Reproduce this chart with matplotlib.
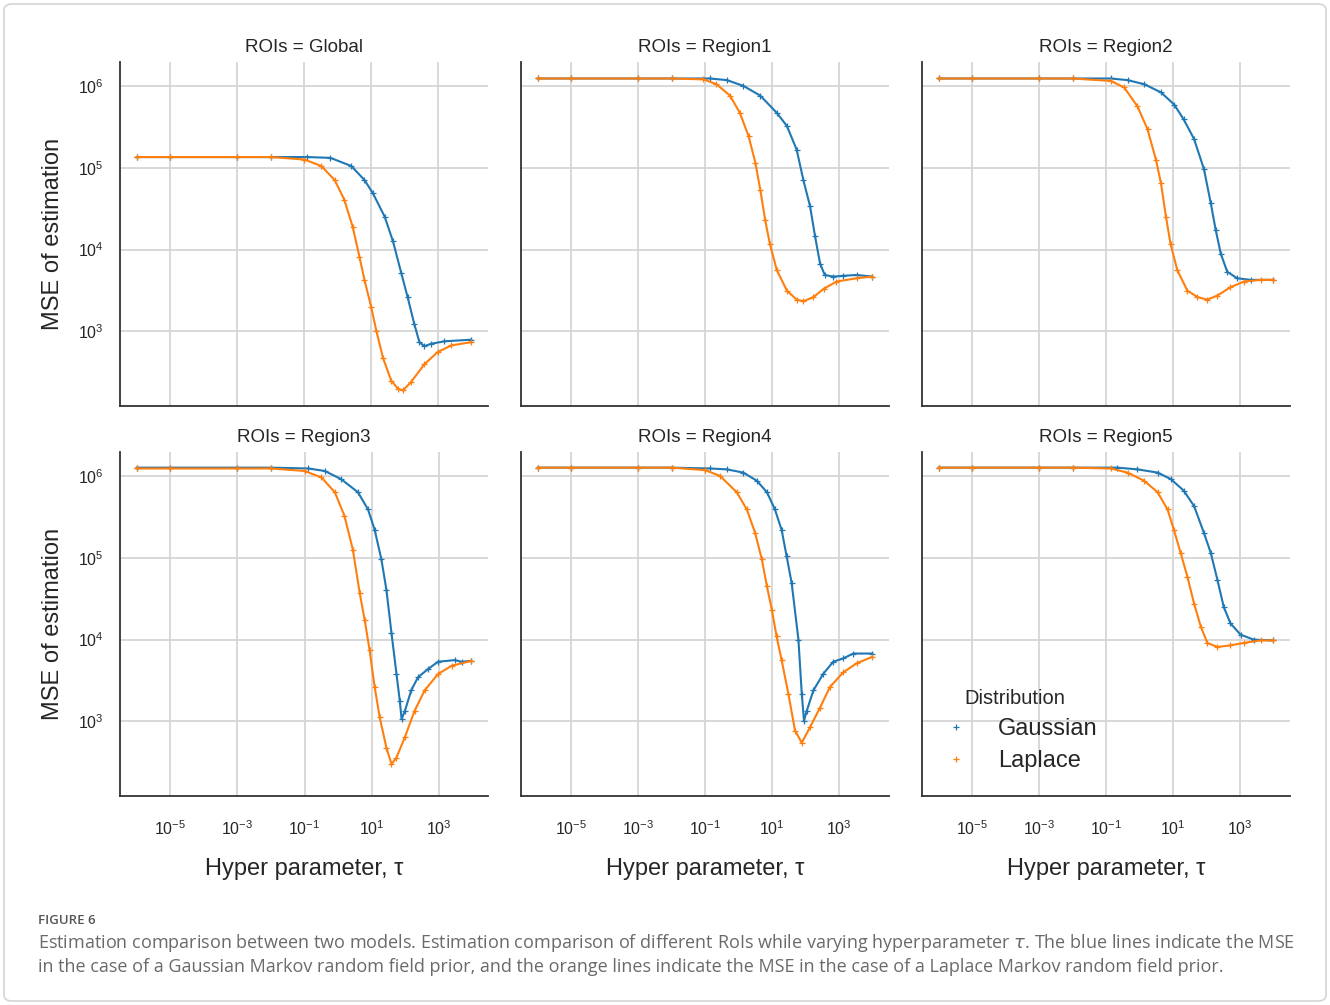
import matplotlib
matplotlib.use("Agg")
import matplotlib.pyplot as plt
import matplotlib.ticker as mticker
from matplotlib.lines import Line2D
from matplotlib.patches import FancyBboxPatch
import pandas as pd

plt.rcParams["font.family"] = ["Liberation Sans", "DejaVu Sans"]
plt.rcParams["mathtext.fontset"] = "custom"
plt.rcParams["mathtext.rm"] = "Liberation Sans"

ROIS = ["Global", "Region1", "Region2", "Region3", "Region4", "Region5"]
DISTRIBUTIONS = ["Gaussian", "Laplace"]
COLORS = {"Gaussian": "#1f77b4", "Laplace": "#ff7f0e"}
X_TICKS = [1e-5, 1e-3, 1e-1, 1e1, 1e3]
Y_TICKS = [1e3, 1e4, 1e5, 1e6]

# ---- MSE of estimation versus hyper parameter tau, per ROI and prior ----
GLOBAL_GAUSSIAN_TAU = [1e-6, 1e-5, 1e-3, 1e-2, 0.12, 0.6, 2.5, 6.2, 11, 25, 44, 78, 120, 190, 270, 380, 600, 1500, 9500]
GLOBAL_GAUSSIAN_MSE = [1.35e5, 1.35e5, 1.35e5, 1.35e5, 1.35e5, 1.32e5, 1.05e5, 7.08e4, 4.90e4, 2.51e4, 1.26e4,
                       5.13e3, 2.63e3, 1.23e3, 741, 661, 708, 759, 794]
GLOBAL_LAPLACE_TAU = [1e-6, 1e-5, 1e-3, 1e-2, 0.1, 0.32, 0.8, 1.55, 2.75, 4.4, 6.2, 9.8, 14, 22, 39, 62, 87, 150,
                      380, 950, 2400, 9500]
GLOBAL_LAPLACE_MSE = [1.35e5, 1.35e5, 1.35e5, 1.35e5, 1.26e5, 1.05e5, 7.08e4, 4.07e4, 1.91e4, 8.13e3, 4.27e3,
                      2.0e3, 1.02e3, 479, 251, 200, 191, 240, 398, 562, 676, 741]

REGION1_GAUSSIAN_TAU = [1e-6, 1e-5, 1e-3, 1e-2, 0.14, 0.45, 1.4, 4.5, 14, 28, 55, 87, 138, 195, 275, 380, 680,
                        1350, 3400, 1e4]
REGION1_GAUSSIAN_MSE = [1.23e6, 1.23e6, 1.23e6, 1.23e6, 1.23e6, 1.175e6, 1.0e6, 7.59e5, 4.68e5, 3.24e5, 1.66e5,
                        7.08e4, 3.39e4, 1.45e4, 6.76e3, 4.90e3, 4.68e3, 4.79e3, 4.90e3, 4.68e3]
REGION1_LAPLACE_TAU = [1e-6, 1e-5, 1e-3, 1e-2, 0.09, 0.22, 0.56, 1.1, 2.0, 3.2, 4.5, 6.3, 8.7, 14, 28, 55, 87, 174,
                       350, 850, 3400, 1e4]
REGION1_LAPLACE_MSE = [1.23e6, 1.23e6, 1.23e6, 1.23e6, 1.20e6, 1.047e6, 7.59e5, 4.68e5, 2.45e5, 1.15e5, 5.37e4,
                       2.29e4, 1.175e4, 5.62e3, 3.16e3, 2.45e3, 2.34e3, 2.63e3, 3.31e3, 4.07e3, 4.47e3, 4.68e3]

REGION2_GAUSSIAN_TAU = [1e-6, 1e-5, 1e-3, 1e-2, 0.14, 0.44, 1.4, 4.4, 11, 21, 43, 85, 135, 190, 270, 420, 830,
                        2100, 1e4]
REGION2_GAUSSIAN_MSE = [1.23e6, 1.23e6, 1.23e6, 1.23e6, 1.23e6, 1.175e6, 1.047e6, 8.32e5, 5.89e5, 3.89e5, 2.24e5,
                        9.55e4, 3.72e4, 1.74e4, 8.91e3, 5.37e3, 4.47e3, 4.27e3, 4.27e3]
REGION2_LAPLACE_TAU = [1e-6, 1e-5, 1e-3, 1e-2, 0.14, 0.35, 0.87, 1.74, 3.1, 4.4, 6.2, 8.5, 13.5, 27, 54, 107, 214,
                       525, 1320, 4200, 1e4]
REGION2_LAPLACE_MSE = [1.23e6, 1.23e6, 1.23e6, 1.23e6, 1.148e6, 9.55e5, 5.62e5, 2.95e5, 1.26e5, 6.46e4, 2.51e4,
                       1.175e4, 5.62e3, 3.16e3, 2.63e3, 2.45e3, 2.75e3, 3.47e3, 4.07e3, 4.27e3, 4.27e3]

REGION3_GAUSSIAN_TAU = [1e-6, 1e-5, 1e-3, 1e-2, 0.13, 0.4, 1.23, 3.9, 7.8, 12.3, 19.5, 27.5, 39, 55, 69, 78, 98,
                        151, 240, 480, 950, 3000, 4800, 9300]
REGION3_GAUSSIAN_MSE = [1.26e6, 1.26e6, 1.26e6, 1.26e6, 1.23e6, 1.148e6, 9.12e5, 6.31e5, 3.89e5, 2.19e5, 9.55e4,
                        4.07e4, 1.20e4, 3.80e3, 1.78e3, 1.07e3, 1.35e3, 2.40e3, 3.47e3, 4.37e3, 5.37e3, 5.62e3,
                        5.37e3, 5.50e3]
REGION3_LAPLACE_TAU = [1e-6, 1e-5, 1e-3, 1e-2, 0.1, 0.32, 0.8, 1.55, 2.75, 4.4, 6.2, 8.7, 12.3, 17.4, 27.5, 39, 55,
                       98, 190, 380, 950, 2400, 9300]
REGION3_LAPLACE_MSE = [1.23e6, 1.23e6, 1.23e6, 1.23e6, 1.148e6, 9.55e5, 6.31e5, 3.24e5, 1.26e5, 3.72e4, 1.74e4,
                       7.41e3, 2.63e3, 1.12e3, 479, 302, 363, 646, 1.35e3, 2.40e3, 3.80e3, 4.79e3, 5.50e3]

REGION4_GAUSSIAN_TAU = [1e-6, 1e-5, 1e-3, 1e-2, 0.14, 0.45, 1.4, 3.55, 7.1, 12.3, 19.5, 27.5, 39, 62, 78, 91, 110,
                        174, 340, 680, 1350, 2700, 1e4]
REGION4_GAUSSIAN_MSE = [1.26e6, 1.26e6, 1.26e6, 1.26e6, 1.23e6, 1.20e6, 1.096e6, 8.71e5, 6.31e5, 3.89e5, 2.19e5,
                        1.047e5, 4.90e4, 1.0e4, 2.19e3, 1.02e3, 1.35e3, 2.40e3, 3.80e3, 5.37e3, 5.89e3, 6.76e3,
                        6.76e3]
REGION4_LAPLACE_TAU = [1e-6, 1e-5, 1e-3, 1e-2, 0.1, 0.28, 0.89, 1.78, 3.16, 5.0, 7.1, 10, 13.8, 19.5, 31, 49, 78,
                       138, 275, 540, 1350, 3400, 1e4]
REGION4_LAPLACE_MSE = [1.26e6, 1.26e6, 1.26e6, 1.26e6, 1.175e6, 1.0e6, 6.31e5, 3.89e5, 2.0e5, 9.55e4, 4.47e4,
                       2.29e4, 1.096e4, 5.62e3, 2.19e3, 776, 550, 851, 1.48e3, 2.63e3, 3.98e3, 5.13e3, 6.17e3]

REGION5_GAUSSIAN_TAU = [1e-6, 1e-5, 1e-3, 1e-2, 0.22, 0.87, 3.5, 8.7, 21, 43, 85, 135, 214, 330, 525, 1050, 2600,
                        1e4]
REGION5_GAUSSIAN_MSE = [1.26e6, 1.26e6, 1.26e6, 1.26e6, 1.26e6, 1.20e6, 1.096e6, 9.12e5, 6.61e5, 4.27e5, 2.0e5,
                        1.15e5, 5.37e4, 2.51e4, 1.58e4, 1.15e4, 1.0e4, 9.77e3]
REGION5_LAPLACE_TAU = [1e-6, 1e-5, 1e-3, 1e-2, 0.14, 0.44, 1.38, 3.5, 6.9, 10.7, 17, 27, 43, 68, 107, 214, 525,
                       1320, 4200, 1e4]
REGION5_LAPLACE_MSE = [1.26e6, 1.26e6, 1.26e6, 1.26e6, 1.23e6, 1.096e6, 8.71e5, 6.31e5, 3.89e5, 2.19e5, 1.15e5,
                       5.89e4, 2.75e4, 1.445e4, 9.12e3, 8.13e3, 8.51e3, 9.12e3, 9.77e3, 9.77e3]

SERIES = {
    ("Global", "Gaussian"): (GLOBAL_GAUSSIAN_TAU, GLOBAL_GAUSSIAN_MSE),
    ("Global", "Laplace"): (GLOBAL_LAPLACE_TAU, GLOBAL_LAPLACE_MSE),
    ("Region1", "Gaussian"): (REGION1_GAUSSIAN_TAU, REGION1_GAUSSIAN_MSE),
    ("Region1", "Laplace"): (REGION1_LAPLACE_TAU, REGION1_LAPLACE_MSE),
    ("Region2", "Gaussian"): (REGION2_GAUSSIAN_TAU, REGION2_GAUSSIAN_MSE),
    ("Region2", "Laplace"): (REGION2_LAPLACE_TAU, REGION2_LAPLACE_MSE),
    ("Region3", "Gaussian"): (REGION3_GAUSSIAN_TAU, REGION3_GAUSSIAN_MSE),
    ("Region3", "Laplace"): (REGION3_LAPLACE_TAU, REGION3_LAPLACE_MSE),
    ("Region4", "Gaussian"): (REGION4_GAUSSIAN_TAU, REGION4_GAUSSIAN_MSE),
    ("Region4", "Laplace"): (REGION4_LAPLACE_TAU, REGION4_LAPLACE_MSE),
    ("Region5", "Gaussian"): (REGION5_GAUSSIAN_TAU, REGION5_GAUSSIAN_MSE),
    ("Region5", "Laplace"): (REGION5_LAPLACE_TAU, REGION5_LAPLACE_MSE),
}

rows = []
for (roi, dist), (taus, mses) in SERIES.items():
    for t, m in zip(taus, mses):
        rows.append({"ROIs": roi, "Distribution": dist, "tau": t, "mse": m})
df = pd.DataFrame(rows)

CAPTION_HEAD = "FIGURE 6"
CAPTION_LINES = [
    "Estimation comparison between two models. Estimation comparison of different RoIs while varying "
    "hyperparameter $\\tau$. The blue lines indicate the MSE",
    "in the case of a Gaussian Markov random field prior, and the orange lines indicate the MSE in the case "
    "of a Laplace Markov random field prior.",
]

W, H = 1330, 1005
fig = plt.figure(figsize=(W / 100, H / 100), dpi=100)

# light rounded frame around the whole figure
frame = FancyBboxPatch((4 / W, 4 / H), 1 - 8 / W, 1 - 8 / H,
                       boxstyle="round,pad=0,rounding_size=0.006",
                       transform=fig.transFigure, facecolor="white",
                       edgecolor="#d4d4d4", linewidth=1.2, zorder=-10)
fig.patches.append(frame)

col_left = [120, 521, 922]
row_top = [62, 452]
ax_w, ax_h = 368, 344
GRID = "#d5d5d5"
SPINE = "#333333"
TXT = "#262626"

axes = []
for i, roi in enumerate(ROIS):
    r, c = divmod(i, 3)
    left = col_left[c] / W
    bottom = 1 - (row_top[r] + ax_h) / H
    ax = fig.add_axes([left, bottom, ax_w / W, ax_h / H],
                      sharey=axes[0] if axes else None)
    axes.append(ax)
    sub = df[df["ROIs"] == roi]
    for dist in DISTRIBUTIONS:
        d = sub[sub["Distribution"] == dist]
        ax.plot(d["tau"], d["mse"], color=COLORS[dist], lw=1.5,
                marker="+", ms=4, mew=0.9, zorder=3)
    ax.set_xscale("log")
    ax.set_yscale("log")
    ax.xaxis.set_major_locator(mticker.FixedLocator(X_TICKS))
    ax.xaxis.set_minor_locator(mticker.NullLocator())
    ax.yaxis.set_major_locator(mticker.FixedLocator(Y_TICKS))
    ax.yaxis.set_minor_locator(mticker.NullLocator())
    ax.grid(True, color=GRID, lw=1.3, zorder=0)
    ax.set_axisbelow(True)
    for s in ("top", "right"):
        ax.spines[s].set_visible(False)
    for s in ("left", "bottom"):
        ax.spines[s].set_color(SPINE)
        ax.spines[s].set_linewidth(1.3)
    ax.tick_params(length=0, labelsize=11.5, labelcolor=TXT)
    ax.tick_params(axis="x", pad=17)
    ax.tick_params(axis="y", pad=12)
    ax.set_title(f"ROIs = {roi}", fontsize=13.5, color=TXT, pad=7)
    if c == 0:
        ax.set_ylabel("MSE of estimation", fontsize=17, color=TXT, labelpad=10)
    else:
        ax.tick_params(axis="y", labelleft=False)
    if r == 1:
        ax.set_xlabel("Hyper parameter, τ", fontsize=17, color=TXT, labelpad=14)
    else:
        ax.tick_params(axis="x", labelbottom=False)

handles = [Line2D([], [], ls="none", marker="+", ms=4, mew=0.9, color=COLORS[d]) for d in DISTRIBUTIONS]
leg = axes[-1].legend(handles, DISTRIBUTIONS, title="Distribution", loc="lower left",
                      bbox_to_anchor=(0.002, 0.042), borderaxespad=0,
                      frameon=False, fontsize=17, title_fontsize=14.5,
                      labelspacing=0.42)
for t in leg.get_texts():
    t.set_color(TXT)
leg.get_title().set_color(TXT)

fig.text(38 / W, 1 - 920 / H, CAPTION_HEAD, fontsize=9.5, color="#555555",
         family=["Open Sans", "DejaVu Sans"], va="center", fontweight="semibold")
for k, line in enumerate(CAPTION_LINES):
    fig.text(38 / W, 1 - (943 + 24 * k) / H, line, fontsize=13, color="#6a6a6a",
             family=["Open Sans", "DejaVu Sans"], va="center")

fig.savefig("out.png", dpi=100, facecolor="white")
